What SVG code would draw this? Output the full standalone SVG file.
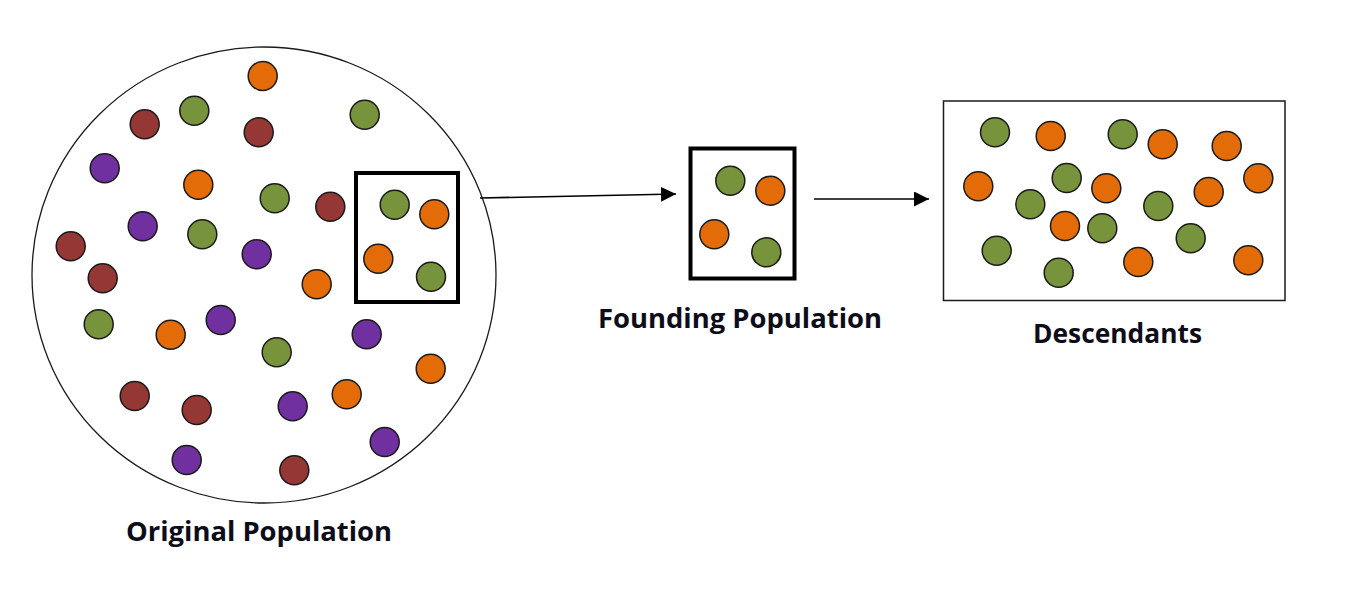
<svg xmlns="http://www.w3.org/2000/svg" width="1355" height="589" viewBox="0 0 1355 589">
<style>
.d{stroke:#1a1a1a;stroke-width:1.5}
.o{fill:#E36C09}
.g{fill:#77933C}
.r{fill:#953735}
.p{fill:#7030A0}
.lbl{font-family:"Open Sans","Liberation Sans",sans-serif;font-weight:bold;font-size:26px;fill:#0d0d1a}
.con{stroke:#000;stroke-width:1.6;fill:none}
</style>
<defs>
<marker id="ah" markerWidth="16" markerHeight="16" refX="15" refY="7.5" orient="auto" markerUnits="userSpaceOnUse">
<path d="M0,0 L15,7.5 L0,15 Z" fill="#000"/>
</marker>
</defs>
<rect width="1355" height="589" fill="#fff"/>
<g id="original">
<ellipse cx="264" cy="275" rx="232" ry="228" fill="#fff" stroke="#1a1a1a" stroke-width="1.3"/>
<g class="d">
<circle class="o" cx="262.7" cy="76" r="14.5"/>
<circle class="r" cx="144.7" cy="124.3" r="14.5"/>
<circle class="g" cx="194.3" cy="110.7" r="14.5"/>
<circle class="r" cx="258.7" cy="132.3" r="14.5"/>
<circle class="g" cx="364.7" cy="114.7" r="14.5"/>
<circle class="p" cx="104.7" cy="168.3" r="14.5"/>
<circle class="o" cx="198.3" cy="184.7" r="14.5"/>
<circle class="g" cx="274.7" cy="198.3" r="14.5"/>
<circle class="r" cx="330.3" cy="206.7" r="14.5"/>
<circle class="p" cx="142.7" cy="226.3" r="14.5"/>
<circle class="g" cx="202.3" cy="234.3" r="14.5"/>
<circle class="r" cx="70.7" cy="246.3" r="14.5"/>
<circle class="p" cx="256.7" cy="254.3" r="14.5"/>
<circle class="r" cx="102.7" cy="278.3" r="14.5"/>
<circle class="o" cx="316.7" cy="284.3" r="14.5"/>
<circle class="g" cx="98.7" cy="324.3" r="14.5"/>
<circle class="o" cx="170.7" cy="334.7" r="14.5"/>
<circle class="p" cx="220.7" cy="320" r="14.5"/>
<circle class="p" cx="366.7" cy="334.3" r="14.5"/>
<circle class="g" cx="276.7" cy="352.3" r="14.5"/>
<circle class="o" cx="430.7" cy="368.7" r="14.5"/>
<circle class="r" cx="134.7" cy="396" r="14.5"/>
<circle class="r" cx="196.7" cy="410" r="14.5"/>
<circle class="p" cx="292.7" cy="406.3" r="14.5"/>
<circle class="o" cx="346.7" cy="394.3" r="14.5"/>
<circle class="p" cx="384.7" cy="442" r="14.5"/>
<circle class="p" cx="186.7" cy="460" r="14.5"/>
<circle class="r" cx="294.3" cy="470.3" r="14.5"/>
</g>
<g id="selection">
<rect x="356" y="173" width="102" height="129" fill="none" stroke="#000" stroke-width="4"/>
<g class="d">
<circle class="g" cx="394.7" cy="204.7" r="14.5"/>
<circle class="o" cx="434.3" cy="214.3" r="14.5"/>
<circle class="o" cx="378.3" cy="258.7" r="14.5"/>
<circle class="g" cx="431" cy="276.7" r="14.5"/>
</g>
</g>
<text class="lbl" x="126" y="541" textLength="266" lengthAdjust="spacingAndGlyphs">Original Population</text>
</g>
<g id="founding">
<rect x="690.5" y="148.5" width="104" height="130" fill="#fff" stroke="#000" stroke-width="4"/>
<g class="d">
<circle class="g" cx="730.3" cy="180.7" r="14.5"/>
<circle class="o" cx="770.3" cy="190.7" r="14.5"/>
<circle class="o" cx="714.3" cy="234.3" r="14.5"/>
<circle class="g" cx="766.3" cy="252.3" r="14.5"/>
</g>
<text class="lbl" x="598" y="328" textLength="284" lengthAdjust="spacingAndGlyphs">Founding Population</text>
</g>
<g id="descendants">
<rect x="943.5" y="101" width="341.5" height="199.5" fill="#fff" stroke="#1a1a1a" stroke-width="1.5"/>
<g class="d">
<circle class="g" cx="995" cy="132.3" r="14.5"/>
<circle class="o" cx="1050.7" cy="136" r="14.5"/>
<circle class="g" cx="1122.7" cy="134.3" r="14.5"/>
<circle class="o" cx="1162.7" cy="144.3" r="14.5"/>
<circle class="o" cx="1226.7" cy="146" r="14.5"/>
<circle class="o" cx="978.3" cy="186.3" r="14.5"/>
<circle class="g" cx="1066.7" cy="178" r="14.5"/>
<circle class="o" cx="1106.3" cy="188.3" r="14.5"/>
<circle class="o" cx="1208.7" cy="192" r="14.5"/>
<circle class="o" cx="1258.3" cy="178.3" r="14.5"/>
<circle class="g" cx="1030.3" cy="204.3" r="14.5"/>
<circle class="g" cx="1158.3" cy="206" r="14.5"/>
<circle class="o" cx="1065" cy="226" r="14.5"/>
<circle class="g" cx="1102.3" cy="228.3" r="14.5"/>
<circle class="g" cx="1190.7" cy="238.3" r="14.5"/>
<circle class="g" cx="996.7" cy="250.7" r="14.5"/>
<circle class="g" cx="1058.7" cy="272.7" r="14.5"/>
<circle class="o" cx="1138.3" cy="262" r="14.5"/>
<circle class="o" cx="1248.3" cy="260.3" r="14.5"/>
</g>
<text class="lbl" x="1033" y="343" textLength="169" lengthAdjust="spacingAndGlyphs">Descendants</text>
</g>
<g id="connectors">
<line class="con" x1="480" y1="198" x2="676" y2="194" marker-end="url(#ah)"/>
<line class="con" x1="814" y1="199" x2="929" y2="199" marker-end="url(#ah)"/>
</g>
</svg>
